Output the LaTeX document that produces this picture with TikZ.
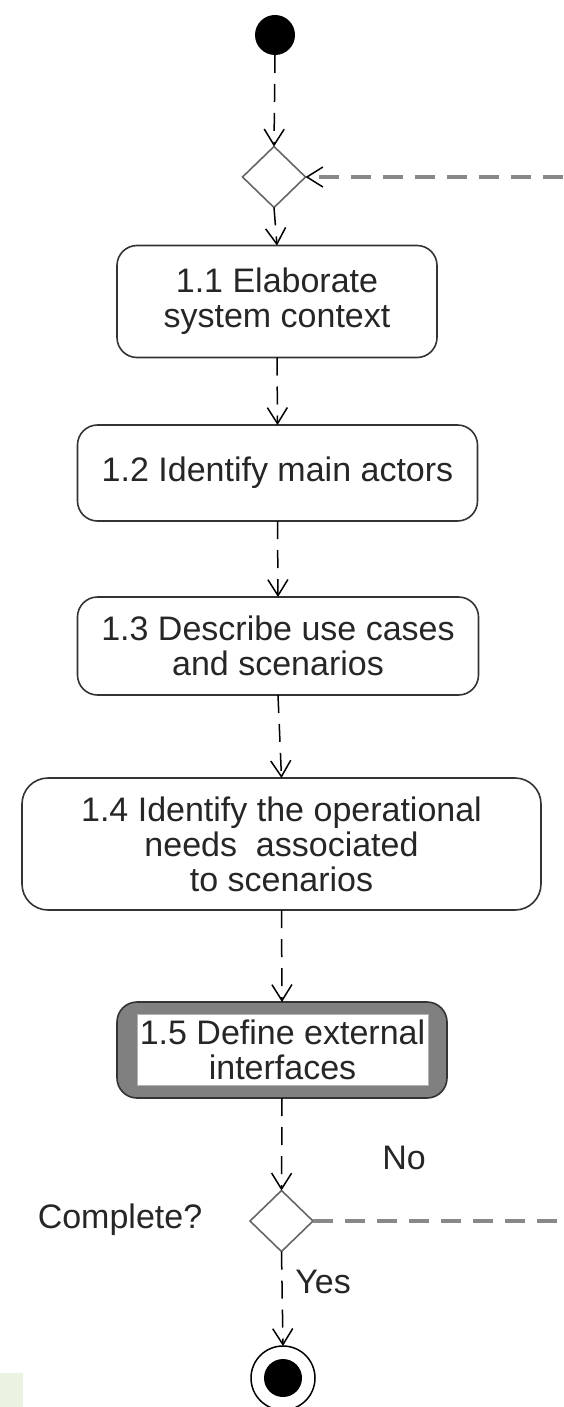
\documentclass[tikz,border=0pt]{standalone}
\usepackage{fontspec}
\setmainfont{Liberation Sans}
\usetikzlibrary{arrows.meta,shapes.geometric}
\definecolor{feedgray}{HTML}{888888}
\definecolor{patchgreen}{HTML}{EAF3E2}
\tikzset{
  txt/.style={font=\fontsize{17}{17.5}\selectfont, text=black!85},
  actbox/.style={txt, draw=black!80, line width=0.8pt, rounded corners=10pt, align=center, inner sep=0pt, outer sep=0pt},
  decision/.style={diamond, draw=black!60, line width=0.8pt, fill=white, inner sep=0pt, outer sep=0pt, minimum width=31.5pt, minimum height=30.5pt},
  flow/.style={draw=black, line width=0.75pt, dash pattern=on 9pt off 5.5pt, -{Straight Barb[length=8pt,width=10pt,line width=0.75pt]}},
  flownotip/.style={draw=black, line width=0.75pt, dash pattern=on 9pt off 5.5pt},
  feedback/.style={draw=feedgray, line width=1.7pt, dash pattern=on 10pt off 6pt},
  feedbackin/.style={feedback, -{Straight Barb[length=8pt,width=10pt,line width=0.75pt,color=black]}}
}
\begin{document}
\begin{tikzpicture}[x=0.5pt,y=-0.5pt]
\useasboundingbox (0,0) rectangle (563,1407);
\fill[patchgreen] (0,1373) rectangle (23,1407);

\node[circle, fill=black, minimum size=20pt, inner sep=0pt, outer sep=0pt] (start) at (275,35) {};
\node[decision] (d1) at (274,177) {};
\coordinate (fbtop) at (563,177);

\node[actbox, minimum width=160pt, minimum height=56pt] (b11) at (277,301.5) {1.1 Elaborate\\system context};
\node[actbox, minimum width=200pt, minimum height=48pt] (b12) at (277.5,473) {1.2 Identify main actors};
\node[actbox, minimum width=200.5pt, minimum height=49pt] (b13) at (278,646) {1.3 Describe use cases\\and scenarios};
\node[actbox, rounded corners=13pt, minimum width=259.5pt, minimum height=66pt] (b14) at (281.5,844) {1.4 Identify the operational\\needs\ \ associated\\to scenarios};
\node[draw=black!80, fill=gray, line width=0.8pt, rounded corners=10pt, minimum width=165pt, minimum height=48pt, inner sep=0pt, outer sep=0pt] (b15) at (282,1050) {};
\node[txt, fill=white, draw=black!30, line width=0.4pt, minimum width=145.5pt, minimum height=35.5pt, inner sep=0pt, align=center] (b15in) at (282.5,1049.5) {1.5 Define external\\interfaces};

\node[decision] (d2) at (281.5,1221) {};
\coordinate (fbbottom) at (563,1221);
\node[circle, draw=black, line width=0.75pt, fill=white, minimum size=32pt, inner sep=0pt, outer sep=0pt] (end) at (283,1378) {};
\node[circle, fill=black, minimum size=19pt, inner sep=0pt] (endin) at (end.center) {};

\node[txt] (complete) at (120,1220) {Complete?};
\node[txt] (no) at (404,1158) {No};
\node[txt] (yes) at (323,1282) {Yes};

\draw[flow] (start.south) -- (d1.north);
\draw[flow] (d1.south) -- (b11.north);
\draw[flow] (b11.south) -- (b12.north);
\draw[flow] (b12.south) -- (b13.north);
\draw[flow] (b13.south) -- (b14.north);
\draw[flow] (b14.south) -- (b15.north);
\draw[flow] (b15.south) -- (d2.north);
\draw[flow] (d2.south) -- (end.north);
\draw[feedbackin] (fbtop) -- (d1.east);
\draw[feedback] (d2.east) -- (fbbottom);
\end{tikzpicture}
\end{document}
